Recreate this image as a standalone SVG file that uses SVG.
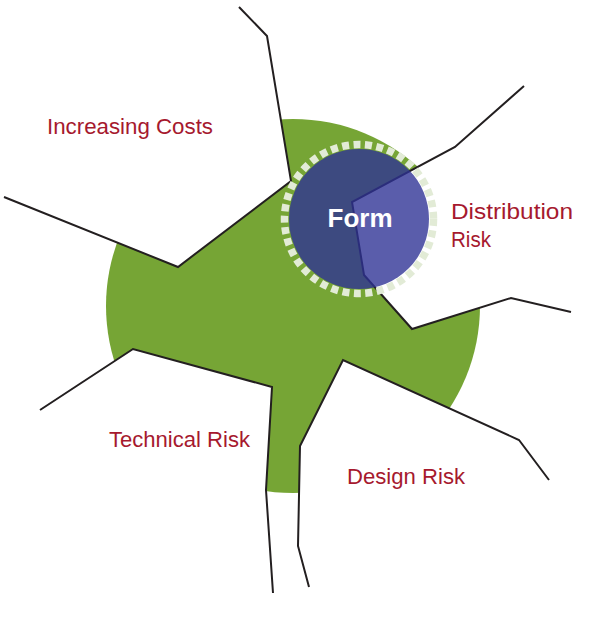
<svg xmlns="http://www.w3.org/2000/svg" width="597" height="625" viewBox="0 0 597 625">
<style>
.bg{fill:#ffffff}
.green{fill:#76a535}
.wedge{fill:#ffffff}
.line{fill:none;stroke:#231f20;stroke-width:2;stroke-linejoin:miter}
.ring{fill:none;stroke:#e2ebd6;stroke-width:7.5;stroke-dasharray:7 4.5}
.form{fill:#2e3295;fill-opacity:0.79}
.label{font-family:"Liberation Sans",Arial,sans-serif;font-size:22px;fill:#a6192e}
.formtext{font-family:"Liberation Sans",Arial,sans-serif;font-size:26px;font-weight:bold;fill:#ffffff}
</style>
<rect class="bg" x="0" y="0" width="597" height="625"/>
<g id="field">
<circle class="green" cx="293" cy="306" r="187"/>
<polygon class="wedge" points="239,7 267,36 291,181 178,267 4,197 -10,190 -10,-10 239,-10"/>
<polygon class="wedge" points="524,86 455,147 352,202 364,275 412,329 511,298 571,312 610,312 610,86"/>
<polygon class="wedge" points="309,587 298,546 300,446 343,360 519,440 549,480 610,480 610,630 309,630"/>
<polygon class="wedge" points="273,593 266,490 272,387 133,349 40,410 -10,410 -10,630 273,630"/>
</g>
<g id="connectors">
<polyline class="line" points="239,7 267,36 291,181 178,267 4,197"/>
<polyline class="line" points="524,86 455,147 352,202 364,275 412,329 511,298 571,312"/>
<polyline class="line" points="309,587 298,546 300,446 343,360 519,440 549,480"/>
<polyline class="line" points="273,593 266,490 272,387 133,349 40,410"/>
</g>
<g id="form-node">
<circle class="ring" cx="359" cy="219" r="74.5"/>
<circle class="form" cx="359" cy="219" r="70"/>
<text class="formtext" x="360" y="227" text-anchor="middle">Form</text>
</g>
<g id="labels">
<text class="label" x="47" y="134" textLength="166" lengthAdjust="spacingAndGlyphs">Increasing Costs</text>
<text class="label" x="451" y="219" textLength="122" lengthAdjust="spacingAndGlyphs">Distribution</text>
<text class="label" x="451" y="247" textLength="40" lengthAdjust="spacingAndGlyphs">Risk</text>
<text class="label" x="109" y="447" textLength="141" lengthAdjust="spacingAndGlyphs">Technical Risk</text>
<text class="label" x="347" y="484" textLength="118" lengthAdjust="spacingAndGlyphs">Design Risk</text>
</g>
</svg>
